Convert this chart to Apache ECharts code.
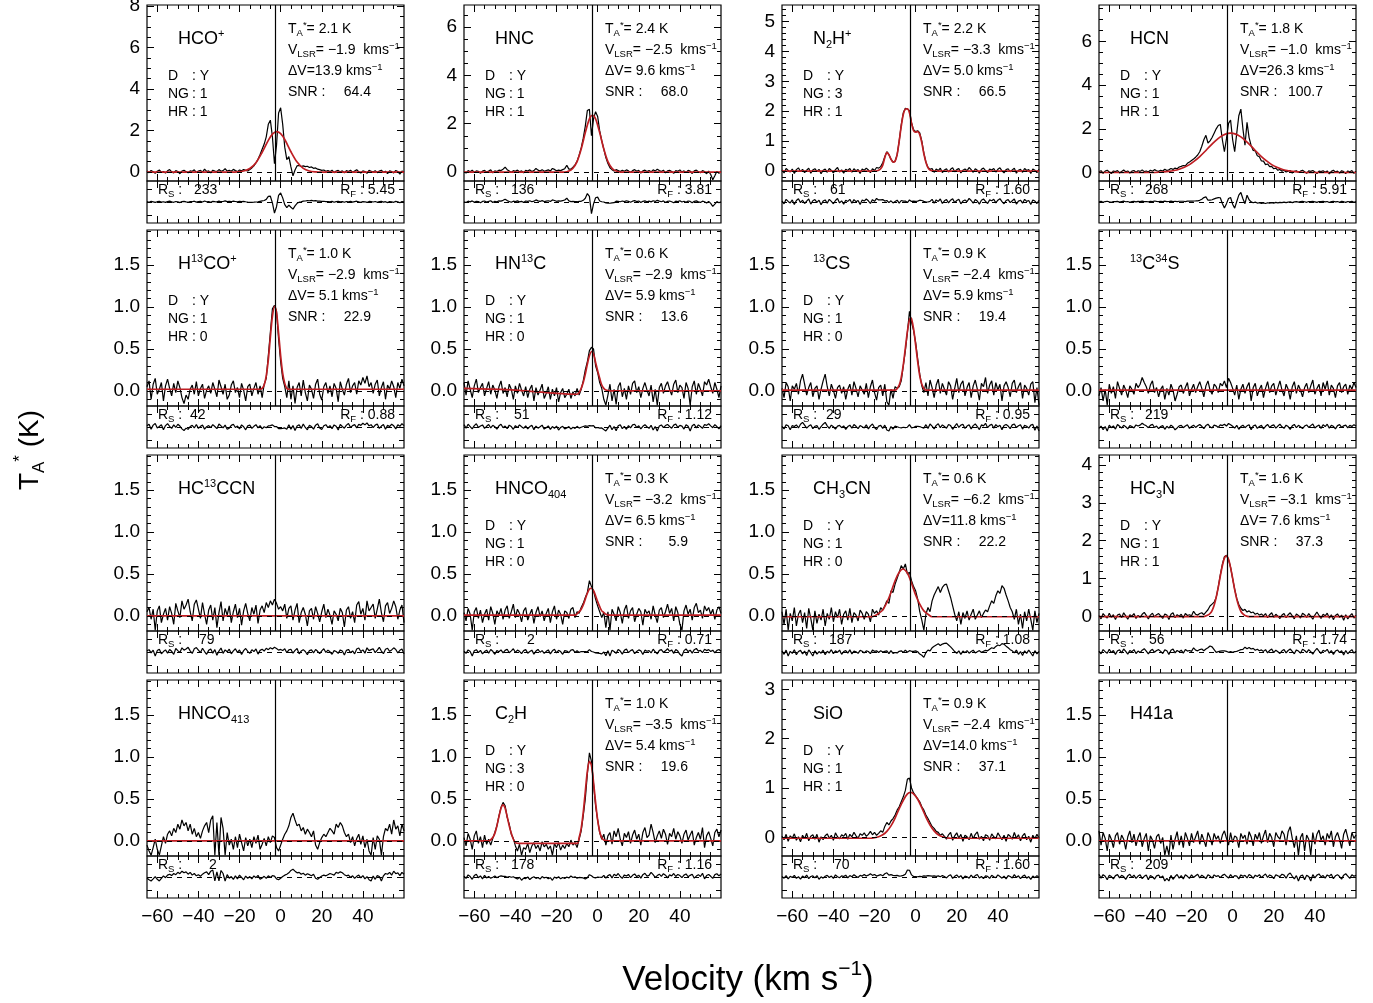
<!DOCTYPE html>
<html>
<head>
<meta charset="utf-8">
<title>Spectra</title>
<script src="https://cdn.jsdelivr.net/npm/echarts@6/dist/echarts.min.js"></script>
<style>
html, body { margin: 0; padding: 0; background: #fff; }
#main { width: 1373px; height: 1003px; }
</style>
</head>
<body>
<div id="main"></div>
<script>
// velocity channels, km/s
var velocity = [-65,-64,-63,-62,-61,-60,-59,-58,-57,-56,-55,-54,-53,-52,-51,-50,-49,-48,-47,-46,-45,-44,-43,-42,-41,-40,-39,-38,-37,-36,-35,-34,-33,-32,-31,-30,-29,-28,-27,-26,-25,-24,-23,-22,-21,-20,-19,-18,-17,-16,-15,-14,-13,-12,-11,-10,-9,-8,-7,-6,-5,-4,-3,-2,-1,0,1,2,3,4,5,6,7,8,9,10,11,12,13,14,15,16,17,18,19,20,21,22,23,24,25,26,27,28,29,30,31,32,33,34,35,36,37,38,39,40,41,42,43,44,45,46,47,48,49,50,51,52,53,54,55,56,57,58,59,60];
var velTicks = [-60, -40, -20, 0, 20, 40];
var velMinor = [-55,-50,-45,-35,-30,-25,-15,-10,-5,5,10,15,25,30,35,45,50,55];
var vSys = -2.6;

// y tick sets
var ticksEven8 = [0, 2, 4, 6, 8];
var ticksEven6 = [0, 2, 4, 6];
var minorEven8 = [0.5,1,1.5,2.5,3,3.5,4.5,5,5.5,6.5,7,7.5];
var minorEven6 = [0.5,1,1.5,2.5,3,3.5,4.5,5,5.5,6.5];
var ticksN2h = [0, 1, 2, 3, 4, 5];
var minorN2h = [-0.2,0.2,0.4,0.6,0.8,1.2,1.4,1.6,1.8,2.2,2.4,2.6,2.8,3.2,3.4,3.6,3.8,4.2,4.4,4.6,4.8,5.2,5.4];
var ticksHc3n = [0, 1, 2, 3, 4];
var minorHc3n = [-0.2,0.2,0.4,0.6,0.8,1.2,1.4,1.6,1.8,2.2,2.4,2.6,2.8,3.2,3.4,3.6,3.8,4.2];
var ticksSio = [0, 1, 2, 3];
var minorSio = [-0.2,0.2,0.4,0.6,0.8,1.2,1.4,1.6,1.8,2.2,2.4,2.6,2.8];
var ticksLow = [0, 0.5, 1, 1.5];
var minorLow = [-0.1,0.1,0.2,0.3,0.4,0.6,0.7,0.8,0.9,1.1,1.2,1.3,1.4,1.6,1.7,1.8,1.9];

// ---- HCO+ ----
var hcoData = [.05,-.03,.08,.02,-.06,.04,.10,-.02,.03,-.05,
.06,.12,.01,-.04,.07,.03,-.08,.05,.09,.02,
-.03,.06,.04,.11,-.02,.05,.08,0,.14,.03,
.06,-.04,.09,.05,.02,.12,.04,.07,.16,.05,
.09,.04,.13,.07,.02,.10,.06,.12,.08,.05,
.12,.2,.3,.45,.62,.85,1.1,1.35,1.7,2.3,
2.5,1.7,.4,1.3,2.85,3.1,2.3,1.2,.6,.75,
.25,-.18,.1,.3,.32,.27,.3,.26,.28,.22,
.25,.18,.2,.14,.12,.08,.1,.04,.07,.02,
.09,-.03,.05,.08,.01,.06,-.04,.07,.03,.09,
-.02,.05,.11,.02,-.05,.06,.03,-.06,.08,.04,
0,.07,-.03,.05,.09,-.02,.04,-.08,.06,.02,
-.04,.08,.03,-.1,.05,.01];
var hcoFit = [[-65,0],[-24,0],[-21,.01],[-18,.05],[-15,.17],[-12,.45],[-9,.95],[-6,1.53],[-4,1.83],[-1.9,1.95],[0,1.85],[2,1.57],[5,.98],[8,.48],[11,.18],[14,.05],[17,.01],[20,0],[60,0]];
var hcoResid = [.05,-.03,.08,.02,-.06,.04,.10,-.02,.03,-.05,
.06,.12,.01,-.04,.07,.03,-.08,.05,.09,.02,
-.03,.06,.04,.11,-.02,.05,.08,0,.14,.03,
.06,-.04,.09,.05,.02,.12,.04,.07,.16,.05,
.09,.04,.13,.07,.01,.09,.04,.09,.03,-.02,
-.05,-.04,-.03,0,.03,.09,.15,.21,.36,.77,
.8,-.13,-1.52,-.65,.92,1.25,.57,-.37,-.78,-.43,
-.73,-.98,-.53,-.18,-.03,.01,.12,.14,.2,.17,
.22,.16,.19,.13,.12,.08,.1,.04,.07,.02,
.09,-.03,.05,.08,.01,.06,-.04,.07,.03,.09,
-.02,.05,.11,.02,-.05,.06,.03,-.06,.08,.04,
0,.07,-.03,.05,.09,-.02,.04,-.08,.06,.02,
-.04,.08,.03,-.1,.05,.01];

// ---- HNC ----
var hncData = [.02,-.04,.06,.01,.08,-.02,.05,.03,-.05,.04,
.07,0,.04,.09,-.03,.05,.02,.08,.06,.12,
.2,.1,.04,-.02,.06,.03,.08,.01,.05,-.03,
.07,.04,.09,.02,.06,.15,.08,.04,.1,.03,
.06,.09,.04,.15,.11,.05,.08,.06,.1,.14,
.28,.12,.12,.2,.3,.45,.7,1.0,1.4,1.9,
2.55,2.6,1.5,2.2,2.5,2.3,1.7,1.3,.95,.6,
.35,.18,.1,.04,.1,.06,.02,.07,.03,.09,
.05,-.02,.06,.1,.03,.07,-.04,.05,.08,.02,
.06,.01,.09,.04,.12,.06,.02,.08,-.03,.05,
.07,.02,-.05,.06,.03,.09,0,.05,-.02,.07,
.04,-.06,.05,.08,.01,-.03,.06,.02,-.07,.04,
-.1,-.32,-.15,.03,-.05,.02];
var hncFit = [[-65,0],[-16,0],[-14,.04],[-12,.16],[-10,.43],[-8,.95],[-6,1.63],[-4,2.2],[-2.5,2.35],[-1,2.2],[1,1.63],[3,.95],[5,.43],[7,.16],[9,.04],[11,0],[60,0]];
var hncResid = [.02,-.04,.06,.01,.08,-.02,.05,.03,-.05,.04,
.07,0,.04,.09,-.03,.05,.02,.08,.06,.12,
.2,.1,.04,-.02,.06,.03,.08,.01,.05,-.03,
.07,.04,.09,.02,.06,.15,.08,.04,.1,.03,
.06,.09,.04,.15,.11,.05,.08,.06,.1,.14,
.27,.08,.03,.04,.03,.02,.04,.05,.12,.27,
.6,.4,-.83,-.13,.3,.35,.07,.02,0,-.06,
-.08,-.09,-.06,-.05,.06,.04,.02,.07,.03,.09,
.05,-.02,.06,.1,.03,.07,-.04,.05,.08,.02,
.06,.01,.09,.04,.12,.06,.02,.08,-.03,.05,
.07,.02,-.05,.06,.03,.09,0,.05,-.02,.07,
.04,-.06,.05,.08,.01,-.03,.06,.02,-.07,.04,
-.1,-.32,-.15,.03,-.05,.02];

// ---- N2H+ ----
var n2hData = [.04,-.06,.09,.02,-.03,.07,-.08,.05,.11,-.02,
.06,-.05,.03,.1,-.07,.04,.08,-.01,.06,-.09,
.03,.07,-.04,.09,.02,-.06,.05,.12,-.03,.04,
-.07,.06,.02,.09,-.04,.08,.01,.05,-.08,.07,
.03,.1,.04,-.05,.08,.02,.12,.1,.15,.28,
.48,.65,.55,.4,.3,.33,.55,1.0,1.55,1.95,
2.1,2.08,2.02,1.62,1.38,1.32,1.35,1.28,1.0,.6,
.3,.12,.06,.09,-.04,.07,.02,.1,-.05,.04,
.08,-.03,.06,.11,-.02,.05,.09,-.06,.03,.07,
.01,.12,.05,-.04,.08,.03,-.07,.06,.1,.02,
-.05,.07,.04,.09,-.03,.06,.11,.01,-.06,.05,
.08,-.02,.04,.1,-.07,.03,.06,-.04,.09,.02,
.05,-.08,.07,.03,-.05,.06];
var n2hFit = [[-65,0],[-20,0],[-18,.03],[-17,.08],[-16,.2],[-15,.45],[-14,.62],[-13,.55],[-12,.4],[-11,.3],[-10,.33],[-9,.55],[-8,1.0],[-7,1.5],[-6,1.9],[-5,2.07],[-4,2.08],[-3,1.95],[-2,1.6],[-1,1.35],[0,1.3],[1,1.32],[2,1.22],[3,.95],[4,.58],[5,.3],[6,.12],[7,.04],[9,0],[60,0]];
var n2hResid = [.04,-.06,.09,.02,-.03,.07,-.08,.05,.11,-.02,
.06,-.05,.03,.1,-.07,.04,.08,-.01,.06,-.09,
.03,.07,-.04,.09,.02,-.06,.05,.12,-.03,.04,
-.07,.06,.02,.09,-.04,.08,.01,.05,-.08,.07,
.03,.1,.04,-.05,.08,.02,.12,.07,.07,.08,
.03,.05,-.02,.04,-.03,.02,.06,-.04,.05,.03,
.03,-.02,.07,.02,.03,.02,.03,.06,.05,.02,
0,0,.02,.09,-.04,.07,.02,.1,-.05,.04,
.08,-.03,.06,.11,-.02,.05,.09,-.06,.03,.07,
.01,.12,.05,-.04,.08,.03,-.07,.06,.1,.02,
-.05,.07,.04,.09,-.03,.06,.11,.01,-.06,.05,
.08,-.02,.04,.1,-.07,.03,.06,-.04,.09,.02,
.05,-.08,.07,.03,-.05,.06];

// ---- HCN ----
var hcnData = [.03,.08,-.04,.06,.1,.02,-.05,.07,.04,.09,
-.02,.05,.11,.03,.07,-.03,.06,.09,.01,.08,
.05,.12,.04,.07,.02,.1,.06,.13,.08,.05,
.1,.07,.15,.09,.12,.18,.14,.2,.17,.25,
.28,.32,.3,.42,.48,.55,.62,.7,.8,.95,
1.2,1.5,1.7,1.35,1.45,1.6,1.8,2.0,2.15,2.2,
1.5,.95,1.55,2.25,2.4,1.5,.95,1.8,2.6,2.9,
2.0,1.25,2.3,1.6,1.23,1.01,.99,.77,.72,.53,
.52,.36,.39,.27,.28,.17,.2,.1,.14,.06,
.1,.02,.06,.09,-.03,.05,.08,.01,.06,.1,
.03,-.04,.07,.05,.09,.02,-.05,.06,.04,.08,
.01,.07,-.06,.05,.1,.02,.06,-.03,.08,.04,
-.05,.07,.02,.09,-.04,.06];
var hcnFit = [[-65,0],[-40,0],[-36,.01],[-31,.05],[-28.5,.09],[-26,.15],[-23.5,.24],[-21,.36],[-18.5,.53],[-16,.73],[-13.5,.96],[-11,1.21],[-8.5,1.44],[-6,1.63],[-3.5,1.755],[-1,1.8],[1.5,1.755],[4,1.63],[6.5,1.44],[9,1.21],[11.5,.96],[14,.73],[16.5,.53],[19,.36],[21.5,.24],[24,.15],[26.5,.09],[29,.05],[34,.01],[38,0],[60,0]];
var hcnResid = [.03,.08,-.04,.06,.1,.02,-.05,.07,.04,.09,
-.02,.05,.11,.03,.07,-.03,.06,.09,.01,.08,
.05,.12,.04,.07,.02,.1,.06,.13,.08,.05,
.08,.05,.12,.05,.07,.12,.06,.1,.05,.1,
.1,.1,.04,.11,.12,.13,.13,.14,.16,.22,
.38,.59,.69,.24,.24,.3,.41,.52,.59,.57,
-.19,-.79,-.22,.46,.6,-.29,-.82,.06,.91,1.27,
.44,-.23,.91,.3,.02,-.1,-.02,-.14,-.1,-.2,
-.12,-.2,-.1,-.15,-.08,-.14,-.06,-.12,-.04,-.09,
-.02,-.08,-.02,.03,-.08,.01,.05,-.01,.04,.09,
.03,-.04,.07,.05,.09,.02,-.05,.06,.04,.08,
.01,.07,-.06,.05,.1,.02,.06,-.03,.08,.04,
-.05,.07,.02,.09,-.04,.06];

// ---- H13CO+ ----
var h13coData = [.05,.12,-.1,.08,.15,-.04,.02,.1,-.12,.06,
.14,.03,-.06,.09,-.02,.12,.04,-.08,-.15,-.05,
-.1,.02,.07,-.04,.11,-.06,.03,.08,-.09,.01,
.06,-.03,.1,.02,-.07,.13,.05,-.04,.08,-.1,
-.05,.07,.12,-.02,.04,-.08,.09,.01,-.12,.05,
.08,-.06,.03,.1,-.04,.06,-.08,.08,.15,.42,
.7,.98,1.02,.95,.62,.35,.15,.05,-.08,.12,
-.1,.06,-.15,.04,.1,-.06,.13,-.02,-.12,.07,
.02,-.09,.08,.14,-.04,-.11,.05,.1,-.03,.06,
-.07,.09,.03,-.13,.11,.02,-.05,.08,.15,-.02,
.06,.1,-.04,.12,.07,.16,.09,.18,.05,.1,
-.03,.08,.13,-.06,.04,.11,-.1,.07,.02,.12,
.05,-.08,.1,.03,.14,.06];
var h13coFit = [[-65,.02],[-10,.02],[-9,.03],[-8,.07],[-7,.18],[-6,.37],[-5,.64],[-4,.89],[-2.9,1.01],[-2,.93],[-1,.69],[0,.42],[1,.21],[2,.09],[3,.03],[4,.02],[60,.02]];
var h13coResid = [.05,.12,-.1,.08,.15,-.04,.02,.1,-.12,.06,
.14,.03,-.06,.09,-.02,.12,.04,-.08,-.15,-.05,
-.1,.02,.07,-.04,.11,-.06,.03,.08,-.09,.01,
.06,-.03,.1,.02,-.07,.13,.05,-.04,.08,-.1,
-.05,.07,.12,-.02,.04,-.08,.09,.01,-.12,.05,
.08,-.06,.03,.1,-.04,.06,-.08,.01,-.03,.05,
.06,.09,.02,.02,-.07,-.07,-.06,-.04,-.1,.1,
-.1,.06,-.15,.04,.1,-.06,.13,-.02,-.12,.07,
.02,-.09,.08,.14,-.04,-.11,.05,.1,-.03,.06,
-.07,.09,.03,-.13,.11,.02,-.05,.08,.15,-.02,
.06,.1,-.04,.12,.07,.16,.09,.18,.05,.1,
-.03,.08,.13,-.06,.04,.11,-.1,.07,.02,.12,
.05,-.08,.1,.03,.14,.06];

// ---- HN13C ----
var hn13cData = [.1,-.05,.12,.02,-.08,.06,.14,-.02,.04,.09,
-.06,.03,.11,-.04,.07,.01,-.09,.05,.12,-.03,
.04,-.07,.08,.02,-.1,.06,-.03,.09,.01,-.06,
.05,-.08,.02,.07,-.12,.04,-.05,.01,.08,-.09,
-.03,.05,-.1,.02,-.06,.04,-.13,-.02,.03,-.08,
-.04,.02,-.09,-.01,-.06,.03,-.05,.02,.12,.25,
.35,.48,.52,.5,.3,.22,.1,.03,-.1,-.17,
-.05,.08,-.12,.02,-.16,.05,.1,-.07,.03,-.1,
.06,-.04,.09,.12,-.02,.05,-.08,.03,.1,.01,
-.06,.07,-.13,.02,-.17,.04,.09,-.03,.06,.11,
.02,-.05,.08,.13,-.02,.07,.04,-.09,.1,.03,
-.17,.05,.12,-.04,.09,.02,-.06,.11,.07,.14,
.05,-.03,.1,.02,-.08,.06];
var hn13cFit = [[-65,.03],[-40,.01],[-20,-.03],[-10,-.04],[-9,-.02],[-8,.03],[-7,.1],[-6,.2],[-5,.32],[-4,.42],[-2.9,.47],[-2,.44],[-1,.34],[0,.24],[1,.15],[2,.07],[3,.03],[4,.01],[6,0],[60,0]];
var hn13cResid = [.1,-.05,.12,.02,-.08,.06,.14,-.02,.04,.09,
-.06,.03,.11,-.04,.07,.01,-.09,.05,.12,-.03,
.04,-.07,.08,.02,-.1,.06,-.03,.09,.01,-.06,
.05,-.08,.02,.07,-.12,.04,-.05,.01,.08,-.09,
-.03,.05,-.1,.02,-.06,.04,-.13,-.02,.03,-.08,
-.04,.02,-.09,-.01,-.06,.03,-.05,-.01,.02,.05,
.03,.06,.05,.06,-.04,-.02,-.05,-.04,-.11,-.17,
-.05,.08,-.12,.02,-.16,.05,.1,-.07,.03,-.1,
.06,-.04,.09,.12,-.02,.05,-.08,.03,.1,.01,
-.06,.07,-.13,.02,-.17,.04,.09,-.03,.06,.11,
.02,-.05,.08,.13,-.02,.07,.04,-.09,.1,.03,
-.17,.05,.12,-.04,.09,.02,-.06,.11,.07,.14,
.05,-.03,.1,.02,-.08,.06];

// ---- 13CS ----
var cs13Data = [.03,-.08,.1,.05,-.12,.06,.02,.09,-.04,.12,
.2,.08,-.05,.04,.1,-.07,.03,.06,-.1,.02,
.12,.2,.05,-.06,.08,.01,-.09,.04,.07,-.03,
.05,-.1,.02,.08,-.05,.11,.03,-.07,.06,.01,
-.04,.09,-.08,.05,.13,-.02,-.11,.04,.07,-.06,
.08,-.13,-.17,.02,-.09,.05,.03,.05,.12,.3,
.48,.7,.95,.82,.72,.58,.38,.2,.06,-.02,
.1,-.06,.13,.04,-.08,.07,.14,-.03,.09,.02,
-.05,.11,.06,-.1,.03,.15,-.02,.08,.12,-.06,
.04,.1,-.08,.06,.13,.02,-.11,.09,.05,.16,
-.03,.07,.12,-.05,.1,.01,.08,-.12,.06,.11,
.04,-.07,.09,.13,-.02,.05,.1,-.09,.07,.03,
-.05,.08,.11,-.14,.04,-.17];
var cs13Fit = [[-65,.01],[-10,.01],[-8,.07],[-7,.16],[-6,.31],[-5,.51],[-4,.71],[-3,.85],[-2.4,.87],[-2,.86],[-1,.74],[0,.55],[1,.35],[2,.18],[3,.08],[4,.03],[5,.01],[60,.01]];
var cs13Resid = [.03,-.08,.1,.05,-.12,.06,.02,.09,-.04,.12,
.2,.08,-.05,.04,.1,-.07,.03,.06,-.1,.02,
.12,.2,.05,-.06,.08,.01,-.09,.04,.07,-.03,
.05,-.1,.02,.08,-.05,.11,.03,-.07,.06,.01,
-.04,.09,-.08,.05,.13,-.02,-.11,.04,.07,-.06,
.08,-.13,-.17,.02,-.09,.04,.01,-.02,-.04,-.01,
-.03,-.01,.1,-.04,-.02,.03,.03,.02,-.02,-.05,
.1,-.06,.13,.04,-.08,.07,.14,-.03,.09,.02,
-.05,.11,.06,-.1,.03,.15,-.02,.08,.12,-.06,
.04,.1,-.08,.06,.13,.02,-.11,.09,.05,.16,
-.03,.07,.12,-.05,.1,.01,.08,-.12,.06,.11,
.04,-.07,.09,.13,-.02,.05,.1,-.09,.07,.03,
-.05,.08,.11,-.14,.04,-.17];

// ---- 13C34S (no detection, flat fit: residual equals data) ----
var c34sData = [-.06,.04,-.12,.02,-.17,.08,-.03,.05,-.09,.11,
.03,-.05,.07,.01,-.08,.06,.02,-.04,.09,.04,
.08,.16,.1,.05,-.03,.07,.12,-.02,.04,-.07,
.02,.06,-.1,.03,-.05,.08,.01,-.12,-.04,.05,
.07,-.03,.04,.1,-.06,.02,.08,-.02,.05,.11,
.03,-.07,.06,.12,.01,-.04,.08,.05,-.02,.09,
.06,.12,.04,.15,.1,.03,-.05,.07,-.1,.02,
.08,-.03,.05,.1,-.12,.04,.09,-.06,.02,.07,
-.08,.03,.11,-.02,.06,.09,-.05,.04,.12,.01,
-.06,.08,.02,-.1,.05,.11,-.03,.07,.01,-.07,
.04,.09,-.02,.06,.13,-.04,.03,.08,-.06,.1,
.02,.12,-.05,.07,.03,-.08,.06,.1,-.02,.05,
.08,-.04,.07,.02,.1,.04];
var c34sFit = [[-65,.01],[60,.01]];

// ---- HC13CCN ----
var hc13ccnData = [.05,.1,-.04,.08,-.17,.06,.12,-.08,.02,.09,
-.05,.11,.03,-.1,.15,.06,-.02,.18,.08,.13,
.2,.05,-.06,.14,.19,.08,-.03,.16,.02,-.1,
.07,.13,-.05,.1,-.14,.04,.17,-.06,.09,.01,
.12,-.08,.05,.14,-.02,.09,-.11,.06,.15,.03,
-.06,.1,.02,.13,-.09,.07,.12,.04,.16,.1,
.18,.13,.2,.15,.08,.11,.06,.14,-.03,.09,
.12,-.05,.07,.15,-.08,.04,.1,.02,-.12,.06,
.09,-.04,.11,.03,-.07,.05,.14,-.02,.08,.01,
-.1,.06,.02,-.06,.09,.04,-.13,.07,.11,-.03,
.05,-.08,.13,.17,.02,.09,-.05,.18,.06,.1,
.14,-.03,.08,.2,.04,-.07,.12,.16,.03,.09,
.18,.11,-.04,.07,.13,-.08];
var hc13ccnFit = [[-65,0],[60,0]];

// ---- HNCO 4(0,4) ----
var hnco404Data = [.04,-.06,.09,.02,-.17,.05,.1,-.03,.07,-.08,
.02,.08,-.05,.11,.03,-.1,.06,.01,.09,-.04,
.07,.12,-.03,.05,.14,-.02,.08,.03,-.07,.06,
.1,-.05,.02,.08,-.09,.04,.11,-.01,.06,-.06,
.03,.09,-.08,.05,.12,-.04,.07,.02,-.1,.06,
.04,-.03,.08,.1,-.02,.05,.03,.1,.15,.22,
.28,.42,.35,.3,.2,.12,.05,-.02,.04,-.14,
.05,-.17,.08,.02,-.06,.11,.04,-.09,.07,.13,
-.03,.06,.1,-.07,.02,.09,.05,-.11,.08,.03,
.06,-.04,.12,.01,-.08,.07,.1,-.02,.05,.14,
.03,.09,-.06,.11,.04,-.1,-.17,.06,.13,.02,
.08,-.05,.1,.15,.04,.07,-.03,.12,.06,.1,
.02,.08,-.04,.07,.11,.03];
var hnco404Fit = [[-65,.01],[-11,.01],[-9,.05],[-8,.08],[-7,.13],[-6,.2],[-5,.27],[-4,.32],[-3.2,.33],[-2,.3],[-1,.24],[0,.17],[1,.11],[2,.06],[3,.04],[4,.02],[6,.01],[60,.01]];
var hnco404Resid = [.04,-.06,.09,.02,-.17,.05,.1,-.03,.07,-.08,
.02,.08,-.05,.11,.03,-.1,.06,.01,.09,-.04,
.07,.12,-.03,.05,.14,-.02,.08,.03,-.07,.06,
.1,-.05,.02,.08,-.09,.04,.11,-.01,.06,-.06,
.03,.09,-.08,.05,.12,-.04,.07,.02,-.1,.06,
.04,-.03,.08,.1,-.02,.05,-.02,.02,.02,.02,
.01,.1,.02,0,-.04,-.05,-.06,-.08,0,-.16,
.05,-.17,.08,.02,-.06,.11,.04,-.09,.07,.13,
-.03,.06,.1,-.07,.02,.09,.05,-.11,.08,.03,
.06,-.04,.12,.01,-.08,.07,.1,-.02,.05,.14,
.03,.09,-.06,.11,.04,-.1,-.17,.06,.13,.02,
.08,-.05,.1,.15,.04,.07,-.03,.12,.06,.1,
.02,.08,-.04,.07,.11,.03];

// ---- CH3CN ----
var ch3cnData = [.05,-.1,.08,-.17,.03,-.06,.1,-.12,.02,.07,
-.08,.04,-.15,.09,-.03,-.17,.06,-.09,.02,-.05,
.08,-.12,.03,-.04,.1,-.07,.05,-.02,.08,-.1,
.02,.06,-.05,.09,-.08,.04,.01,-.06,.07,.03,
-.04,.05,.02,-.07,.08,.03,.06,.01,.1,.07,
.12,.18,.15,.3,.28,.38,.45,.52,.6,.56,
.62,.5,.52,.42,.35,.3,.2,.05,-.05,-.17,
.02,.1,.05,.18,.25,.3,.35,.28,.34,.37,
.38,.3,.22,.12,.02,-.06,.05,-.1,.04,-.03,
.06,-.05,.02,.08,-.04,.01,.06,-.02,.03,.07,
.05,.12,.18,.15,.24,.3,.27,.36,.33,.25,
.18,.1,.05,-.04,.08,-.1,.02,-.15,.05,-.06,
.08,-.04,-.17,.06,-.08,.03];
var ch3cnFit = [[-65,-.01],[-22,-.01],[-20,0],[-18,.03],[-16,.07],[-14,.16],[-12,.28],[-10,.42],[-8,.52],[-6.2,.56],[-4,.51],[-2,.39],[0,.25],[2,.14],[4,.06],[6,.02],[8,-.01],[60,-.01]];
var ch3cnResid = [.05,-.1,.08,-.17,.03,-.06,.1,-.12,.02,.07,
-.08,.04,-.15,.09,-.03,-.17,.06,-.09,.02,-.05,
.08,-.12,.03,-.04,.1,-.07,.05,-.02,.08,-.1,
.02,.06,-.05,.09,-.08,.04,.01,-.06,.07,.03,
-.04,.05,.02,-.07,.08,.03,.05,-.02,.05,0,
.03,.05,-.07,.06,-.06,-.02,-.04,.03,.05,-.02,
.08,-.01,.06,.03,.03,.05,.01,-.09,-.14,-.23,
-.02,.08,.05,.18,.25,.3,.35,.28,.34,.37,
.38,.3,.22,.12,.02,-.06,.05,-.1,.04,-.03,
.06,-.05,.02,.08,-.04,.01,.06,-.02,.03,.07,
.05,.12,.18,.15,.24,.3,.27,.36,.33,.25,
.18,.1,.05,-.04,.08,-.1,.02,-.15,.05,-.06,
.08,-.04,-.17,.06,-.08,.03];

// ---- HC3N ----
var hc3nData = [.03,-.06,.08,.01,-.04,.09,-.02,.05,-.08,.04,
.07,-.03,.1,.02,-.07,.05,.01,.08,-.05,.03,
-.02,.06,.11,.03,-.06,.04,.09,-.01,.05,.08,
.02,-.05,.07,.04,-.08,.06,.1,-.03,.05,.01,
.06,-.04,.08,.03,.05,.02,.14,.06,.04,.08,
.1,.05,.12,.18,.28,.33,.38,.5,.78,1.1,
1.38,1.58,1.62,1.5,1.3,1.0,.72,.48,.32,.22,
.16,.19,.12,.15,.1,.12,.06,.09,.04,.07,
.02,.08,-.03,.05,.1,-.02,.06,.01,-.05,.04,
.08,-.03,.05,.1,.02,-.06,.07,.03,-.04,.09,
.05,-.02,.08,.01,-.07,.04,.12,.03,-.05,.06,
.02,.09,-.04,.05,-.08,.03,.07,-.02,.04,-.1,
.05,-.06,.02,.08,-.04,.03];
var hc3nFit = [[-65,0],[-14,0],[-12,.04],[-11,.08],[-10,.16],[-9,.3],[-8,.51],[-7,.77],[-6,1.07],[-5,1.34],[-4,1.54],[-3.1,1.6],[-2,1.51],[-1,1.29],[0,1.01],[1,.71],[2,.46],[3,.27],[4,.14],[5,.07],[6,.03],[8,0],[60,0]];
var hc3nResid = [.03,-.06,.08,.01,-.04,.09,-.02,.05,-.08,.04,
.07,-.03,.1,.02,-.07,.05,.01,.08,-.05,.03,
-.02,.06,.11,.03,-.06,.04,.09,-.01,.05,.08,
.02,-.05,.07,.04,-.08,.06,.1,-.03,.05,.01,
.06,-.04,.08,.03,.05,.02,.14,.06,.04,.08,
.1,.04,.1,.14,.2,.17,.08,-.01,.01,.03,
.04,.04,.02,-.01,.01,-.01,.01,.02,.05,.08,
.09,.16,.11,.15,.1,.12,.06,.09,.04,.07,
.02,.08,-.03,.05,.1,-.02,.06,.01,-.05,.04,
.08,-.03,.05,.1,.02,-.06,.07,.03,-.04,.09,
.05,-.02,.08,.01,-.07,.04,.12,.03,-.05,.06,
.02,.09,-.04,.05,-.08,.03,.07,-.02,.04,-.1,
.05,-.06,.02,.08,-.04,.03];

// ---- HNCO 4(1,3) (no fit) ----
var hnco413Data = [-.05,-.12,-.17,-.08,.02,-.1,-.17,-.06,.05,-.03,
.08,.12,.06,.15,.1,.2,.14,.25,.18,.22,
.12,.2,.08,.15,.05,.1,.03,.12,.18,.22,
.1,.25,.3,-.17,.22,-.17,.28,.15,-.17,.1,
-.05,.02,-.1,.05,-.08,.08,-.02,-.12,.04,-.06,
.02,-.08,.05,-.03,.07,-.1,-.04,.03,-.06,.05,
-.02,.06,.04,-.08,-.12,-.05,.02,.08,.12,.18,
.28,.33,.25,.18,.2,.12,.16,.08,.14,.1,
.05,.12,-.05,-.1,-.02,.04,.08,.05,.1,.15,
.12,.08,.2,.16,.22,.18,.1,.05,.08,-.02,
.05,-.06,.03,.08,-.04,.06,-.08,.02,-.12,-.17,
.04,-.1,.06,.02,-.17,.05,.15,.12,.2,.08,
.25,.14,.18,.06,.2,.12];
var hnco413Fit = [[-65,0],[60,0]];

// ---- C2H ----
var c2hData = [.04,-.06,.09,.02,-.1,.06,.12,-.03,.05,-.08,
.07,-.04,.02,-.05,.03,.1,.18,.3,.4,.46,
.42,.28,.2,.08,.03,-.06,-.12,-.04,-.17,-.08,
-.1,-.03,-.14,-.06,-.02,-.09,-.05,-.12,-.01,-.07,
-.04,-.1,-.06,-.17,-.03,-.08,-.02,-.11,-.05,-.09,
-.03,-.07,.01,-.05,-.02,-.08,.02,.12,.3,.5,
.8,1.05,.95,.68,.42,.25,.1,.02,.08,-.05,
.06,.1,-.04,.12,.05,.15,.02,-.06,.09,.04,
.11,-.03,.07,.13,.02,.08,-.05,.1,.16,.04,
.07,.2,.1,-.02,.06,.12,.03,.14,.08,-.04,
.09,.05,.15,.02,.11,.06,-.03,.08,.13,.01,
.07,.12,-.05,.04,.1,.02,.16,-.08,.06,.11,
.03,-.06,.1,.14,.05,.13];
var c2hFit = [[-65,0],[-53,0],[-51,.04],[-50,.09],[-49,.18],[-48,.29],[-47,.39],[-46,.43],[-45,.39],[-44,.29],[-43,.18],[-42,.09],[-41,.02],[-40,-.02],[-38,-.03],[-10,-.03],[-9,.04],[-8,.15],[-7,.34],[-6,.59],[-5,.83],[-4,.95],[-3,.9],[-2,.7],[-1,.46],[0,.25],[1,.11],[2,.04],[3,.01],[5,0],[60,0]];
var c2hResid = [.04,-.06,.09,.02,-.1,.06,.12,-.03,.05,-.08,
.07,-.04,.02,-.05,-.01,.04,-.03,.02,.05,.03,
.03,-.01,.02,-.01,.01,-.04,-.09,-.01,-.14,-.05,
-.07,0,-.11,-.03,.01,-.06,-.02,-.09,.02,-.04,
-.01,-.07,-.03,-.14,0,-.05,.01,-.08,-.02,-.06,
0,-.04,.04,-.02,.01,-.05,-.02,-.03,-.04,-.09,
-.03,.1,.05,-.02,-.04,0,-.01,-.02,.07,-.05,
.06,.1,-.04,.12,.05,.15,.02,-.06,.09,.04,
.11,-.03,.07,.13,.02,.08,-.05,.1,.16,.04,
.07,.2,.1,-.02,.06,.12,.03,.14,.08,-.04,
.09,.05,.15,.02,.11,.06,-.03,.08,.13,.01,
.07,.12,-.05,.04,.1,.02,.16,-.08,.06,.11,
.03,-.06,.1,.14,.05,.13];

// ---- SiO ----
var sioData = [.02,-.05,.06,-.08,.03,-.02,.07,-.06,.01,-.09,
.04,-.03,.08,-.07,.02,.05,-.04,.06,-.1,.01,
-.05,.03,.07,-.02,.04,-.06,.09,.01,-.03,.05,
.02,.08,-.04,.06,.01,.1,.03,-.02,.07,.04,
.09,.02,.06,.12,.05,.1,.04,.08,.13,.1,
.22,.3,.25,.33,.38,.45,.55,.62,.72,.82,
.95,1.18,1.2,1.0,.9,.84,.78,.72,.62,.55,
.45,.38,.3,.22,.18,.12,.1,.04,.07,.02,
-.04,.05,.1,-.06,.03,.09,-.02,.06,-.08,.04,
.01,-.05,.08,-.03,.06,.11,-.04,.02,-.07,.05,
.03,-.06,.07,.01,-.03,.09,.02,-.05,.04,-.08,
.06,.02,-.04,.1,-.02,.05,-.07,.03,.08,-.05,
.02,-.1,.04,-.03,.06,-.02];
var sioFit = [[-65,-.02],[-22,-.02],[-20,-.01],[-18,.01],[-16,.05],[-14,.12],[-12,.23],[-10,.39],[-8,.58],[-6,.75],[-4,.88],[-2.4,.91],[-1,.88],[1,.77],[3,.6],[5,.41],[7,.25],[9,.13],[11,.05],[13,.01],[15,-.01],[17,-.02],[60,-.02]];
var sioResid = [.02,-.05,.06,-.08,.03,-.02,.07,-.06,.01,-.09,
.04,-.03,.08,-.07,.02,.05,-.04,.06,-.1,.01,
-.05,.03,.07,-.02,.04,-.06,.09,.01,-.03,.05,
.02,.08,-.04,.06,.01,.1,.03,-.02,.07,.04,
.11,.04,.08,.14,.07,.11,.04,.07,.1,.05,
.14,.18,.08,.1,.07,.06,.07,.04,.05,.07,
.12,.3,.29,.09,.02,.02,.01,.03,.02,.05,
.04,.06,.05,.04,.05,.03,.05,.01,.06,.02,
-.04,.05,.1,-.06,.03,.09,-.02,.06,-.08,.04,
.01,-.05,.08,-.03,.06,.11,-.04,.02,-.07,.05,
.03,-.06,.07,.01,-.03,.09,.02,-.05,.04,-.08,
.06,.02,-.04,.1,-.02,.05,-.07,.03,.08,-.05,
.02,-.1,.04,-.03,.06,-.02];

// ---- H41a (no detection) ----
var h41Data = [.12,-.05,.1,.03,-.12,.08,.02,-.08,.06,.1,
-.04,.07,.02,-.1,.05,.12,-.02,.08,-.06,.04,
.1,-.07,.03,.09,-.12,.06,.01,-.09,.05,.08,
-.03,.04,-.17,-.06,-.17,.07,-.1,.02,.11,-.05,
.06,-.08,.1,.03,-.06,.09,-.02,.05,.12,-.04,
.08,.01,-.07,.1,.04,-.05,.09,.02,.06,-.03,
.07,.12,.03,-.05,.1,-.02,.06,.04,-.08,.09,
.03,.07,-.04,.11,.05,-.06,.08,.02,.1,-.03,
.06,.13,-.02,.09,.04,-.07,.1,.05,.02,.12,
.08,-.05,.11,.17,.03,-.08,.06,-.17,.04,.09,
-.12,.07,.02,-.17,.1,-.04,.08,.13,.01,.06,
-.05,.09,.03,.12,-.07,.05,.1,.02,-.09,.08,
.14,.04,-.06,.1,.03,.07];
var h41Fit = [[-65,0],[60,0]];

var panels = [
  {mol: '{m|HCO}{mp|+}', data: hcoData, fit: hcoFit, resid: hcoResid, ymin: -0.43, ymax: 8.05, ticks: ticksEven8, minor: minorEven8, dec: 0, rr: 2.9,
   ta: '2.1', vlsr: '\u22121.9', dv: '13.9', snr: '64.4', d: 'Y', ng: '1', hr: '1', rs: '233', rsx: 47, rf: '5.45'},
  {mol: '{m|HNC}', data: hncData, fit: hncFit, resid: hncResid, ymin: -0.37, ymax: 6.91, ticks: ticksEven6, minor: minorEven6, dec: 0, rr: 1.5,
   ta: '2.4', vlsr: '\u22122.5', dv: '9.6', snr: '68.0', d: 'Y', ng: '1', hr: '1', rs: '136', rsx: 47, rf: '3.81'},
  {mol: '{m|N}{mb|2}{m|H}{mp|+}', data: n2hData, fit: n2hFit, resid: n2hResid, ymin: -0.33, ymax: 5.55, ticks: ticksN2h, minor: minorN2h, dec: 0, rr: 0.7,
   ta: '2.2', vlsr: '\u22123.3', dv: '5.0', snr: '66.5', d: 'Y', ng: '3', hr: '1', rs: '61', rsx: 48, rf: '1.60'},
  {mol: '{m|HCN}', data: hcnData, fit: hcnFit, resid: hcnResid, ymin: -0.39, ymax: 7.67, ticks: ticksEven6, minor: minorEven8, dec: 0, rr: 2.8,
   ta: '1.8', vlsr: '\u22121.0', dv: '26.3', snr: '100.7', d: 'Y', ng: '1', hr: '1', rs: '268', rsx: 46, rf: '5.91'},

  {mol: '{m|H}{mp|13}{m|CO}{mp|+}', data: h13coData, fit: h13coFit, resid: h13coResid, ymin: -0.18, ymax: 1.92, ticks: ticksLow, minor: minorLow, dec: 1, rr: 0.9,
   ta: '1.0', vlsr: '\u22122.9', dv: '5.1', snr: '22.9', d: 'Y', ng: '1', hr: '0', rs: '42', rsx: 43, rf: '0.88'},
  {mol: '{m|HN}{mp|13}{m|C}', data: hn13cData, fit: hn13cFit, resid: hn13cResid, ymin: -0.18, ymax: 1.92, ticks: ticksLow, minor: minorLow, dec: 1, rr: 0.9,
   ta: '0.6', vlsr: '\u22122.9', dv: '5.9', snr: '13.6', d: 'Y', ng: '1', hr: '0', rs: '51', rsx: 50, rf: '1.12'},
  {mol: '{mp|13}{m|CS}', data: cs13Data, fit: cs13Fit, resid: cs13Resid, ymin: -0.18, ymax: 1.92, ticks: ticksLow, minor: minorLow, dec: 1, rr: 0.9,
   ta: '0.9', vlsr: '\u22122.4', dv: '5.9', snr: '19.4', d: 'Y', ng: '1', hr: '0', rs: '29', rsx: 44, rf: '0.95'},
  {mol: '{mp|13}{m|C}{mp|34}{m|S}', data: c34sData, fit: c34sFit, resid: c34sData, ymin: -0.18, ymax: 1.92, ticks: ticksLow, minor: minorLow, dec: 1, rr: 0.9,
   ta: null, rs: '219', rsx: 46, rf: null},

  {mol: '{m|HC}{mp|13}{m|CCN}', data: hc13ccnData, fit: hc13ccnFit, resid: hc13ccnData, ymin: -0.18, ymax: 1.92, ticks: ticksLow, minor: minorLow, dec: 1, rr: 0.9,
   ta: null, rs: '79', rsx: 52, rf: null},
  {mol: '{m|HNCO}{mb|404}', data: hnco404Data, fit: hnco404Fit, resid: hnco404Resid, ymin: -0.18, ymax: 1.92, ticks: ticksLow, minor: minorLow, dec: 1, rr: 0.9,
   ta: '0.3', vlsr: '\u22123.2', dv: '6.5', snr: '5.9', d: 'Y', ng: '1', hr: '0', rs: '2', rsx: 63, rf: '0.71'},
  {mol: '{m|CH}{mb|3}{m|CN}', data: ch3cnData, fit: ch3cnFit, resid: ch3cnResid, ymin: -0.18, ymax: 1.92, ticks: ticksLow, minor: minorLow, dec: 1, rr: 0.9,
   ta: '0.6', vlsr: '\u22126.2', dv: '11.8', snr: '22.2', d: 'Y', ng: '1', hr: '0', rs: '187', rsx: 47, rf: '1.08'},
  {mol: '{m|HC}{mb|3}{m|N}', data: hc3nData, fit: hc3nFit, resid: hc3nResid, ymin: -0.38, ymax: 4.26, ticks: ticksHc3n, minor: minorHc3n, dec: 0, rr: 0.7,
   ta: '1.6', vlsr: '\u22123.1', dv: '7.6', snr: '37.3', d: 'Y', ng: '1', hr: '1', rs: '56', rsx: 50, rf: '1.74'},

  {mol: '{m|HNCO}{mb|413}', data: hnco413Data, fit: hnco413Fit, resid: hnco413Data, ymin: -0.18, ymax: 1.92, ticks: ticksLow, minor: minorLow, dec: 1, rr: 0.9,
   ta: null, rs: '2', rsx: 62, rf: null},
  {mol: '{m|C}{mb|2}{m|H}', data: c2hData, fit: c2hFit, resid: c2hResid, ymin: -0.18, ymax: 1.92, ticks: ticksLow, minor: minorLow, dec: 1, rr: 0.9,
   ta: '1.0', vlsr: '\u22123.5', dv: '5.4', snr: '19.6', d: 'Y', ng: '3', hr: '0', rs: '178', rsx: 47, rf: '1.16'},
  {mol: '{m|SiO}', data: sioData, fit: sioFit, resid: sioResid, ymin: -0.38, ymax: 3.19, ticks: ticksSio, minor: minorSio, dec: 0, rr: 0.9,
   ta: '0.9', vlsr: '\u22122.4', dv: '14.0', snr: '37.1', d: 'Y', ng: '1', hr: '1', rs: '70', rsx: 52, rf: '1.60'},
  {mol: '{m|H41a}', data: h41Data, fit: h41Fit, resid: h41Data, ymin: -0.18, ymax: 1.92, ticks: ticksLow, minor: minorLow, dec: 1, rr: 0.9,
   ta: null, rs: '209', rsx: 46, rf: null}
];

var FONT = '"Liberation Sans", Arial, Helvetica, sans-serif';
var RED = '#be1e23';
var colLeft = [147, 464, 782, 1099];
var rowTop = [5, 230, 455, 680];
var panelW = 257, mainH = 176, resH = 42;

var rich = {
  m:  {fontSize: 18, lineHeight: 22, fontFamily: FONT, fill: '#000'},
  mp: {fontSize: 11, lineHeight: 10, verticalAlign: 'top', fontFamily: FONT, fill: '#000'},
  mb: {fontSize: 11, lineHeight: 10, verticalAlign: 'bottom', fontFamily: FONT, fill: '#000'},
  s:  {fontSize: 14, lineHeight: 18, fontFamily: FONT, fill: '#000'},
  sp: {fontSize: 9.5, lineHeight: 8, verticalAlign: 'top', fontFamily: FONT, fill: '#000'},
  sb: {fontSize: 9.5, lineHeight: 8, verticalAlign: 'bottom', fontFamily: FONT, fill: '#000'},
  t:  {fontSize: 28, lineHeight: 36, fontFamily: FONT, fill: '#000'},
  tp: {fontSize: 17, lineHeight: 15, verticalAlign: 'top', fontFamily: FONT, fill: '#000'},
  tb: {fontSize: 17, lineHeight: 15, verticalAlign: 'bottom', fontFamily: FONT, fill: '#000'},
  x:  {fontSize: 35, lineHeight: 42, fontFamily: FONT, fill: '#000'},
  xp: {fontSize: 21, lineHeight: 18, verticalAlign: 'top', fontFamily: FONT, fill: '#000'}
};

var grid = [], xAxis = [], yAxis = [], series = [], graphic = [];

function fmtVel(v) {
  return v < 0 ? '\u2212' + Math.abs(v) : String(v);
}

function addX(gi, pos, vals, len, withLabels) {
  xAxis.push({
    type: 'value', gridIndex: gi, position: pos, min: -65, max: 60,
    axisLine: {show: false, onZero: false},
    splitLine: {show: false},
    axisTick: {show: true, inside: true, length: len, customValues: vals, lineStyle: {color: '#000', width: 1}},
    axisLabel: withLabels
      ? {show: true, customValues: vals, margin: 9, fontSize: 19, fontFamily: FONT, color: '#000', formatter: fmtVel}
      : {show: false}
  });
  return xAxis.length - 1;
}

function addY(gi, pos, lo, hi, vals, len, fmt) {
  yAxis.push({
    type: 'value', gridIndex: gi, position: pos, min: lo, max: hi,
    axisLine: {show: false, onZero: false},
    splitLine: {show: false},
    axisTick: {show: true, inside: true, length: len, customValues: vals, lineStyle: {color: '#000', width: 1}},
    axisLabel: fmt
      ? {show: true, customValues: vals, margin: 7, fontSize: 19, fontFamily: FONT, color: '#000', formatter: fmt}
      : {show: false}
  });
  return yAxis.length - 1;
}

function txt(x, y, s, align) {
  graphic.push({
    type: 'text', x: x, y: y, silent: true, z: 100,
    style: {text: s, rich: rich, align: align || 'left', verticalAlign: 'middle', fontFamily: FONT, fontSize: 14, fill: '#000'}
  });
}

panels.forEach(function (p, k) {
  var r = Math.floor(k / 4), c = k % 4;
  var L = colLeft[c], T = rowTop[r];
  var lastRow = r === 3;

  // main spectrum box
  var gm = grid.length;
  grid.push({left: L, top: T, width: panelW, height: mainH, show: true, borderColor: '#000', borderWidth: 1.2,
             backgroundColor: 'transparent', containLabel: false, outerBoundsMode: 'none'});
  // residual box
  var gr = grid.length;
  grid.push({left: L, top: T + mainH, width: panelW, height: resH, show: true, borderColor: '#000', borderWidth: 1.2,
             backgroundColor: 'transparent', containLabel: false, outerBoundsMode: 'none'});

  var fmtY = p.dec ? function (v) { return v.toFixed(1); } : function (v) { return String(v); };

  var xm = addX(gm, 'bottom', velTicks, 7, false);
  addX(gm, 'bottom', velMinor, 4, false);
  addX(gm, 'top', velTicks, 7, false);
  addX(gm, 'top', velMinor, 4, false);
  var ym = addY(gm, 'left', p.ymin, p.ymax, p.ticks, 7, fmtY);
  addY(gm, 'left', p.ymin, p.ymax, p.minor, 4, null);
  addY(gm, 'right', p.ymin, p.ymax, p.ticks, 7, null);
  addY(gm, 'right', p.ymin, p.ymax, p.minor, 4, null);

  var xr = addX(gr, 'bottom', velTicks, 7, lastRow);
  addX(gr, 'bottom', velMinor, 4, false);
  addX(gr, 'top', velTicks, 7, false);
  addX(gr, 'top', velMinor, 4, false);
  var rTicks = [-0.62 * p.rr, 0, 0.62 * p.rr];
  var yr = addY(gr, 'left', -p.rr, p.rr, rTicks, 5, null);
  addY(gr, 'right', -p.rr, p.rr, rTicks, 5, null);

  series.push({
    type: 'line', xAxisIndex: xm, yAxisIndex: ym, symbol: 'none', silent: true, animation: false, z: 3,
    data: velocity.map(function (v, i) { return [v, p.data[i]]; }),
    lineStyle: {color: '#000', width: 1.2},
    markLine: {
      silent: true, symbol: ['none', 'none'], animation: false, label: {show: false},
      data: [
        {xAxis: vSys, lineStyle: {color: '#000', width: 1.2, type: 'solid'}},
        {yAxis: 0, lineStyle: {color: '#000', width: 1, type: [5, 5]}}
      ]
    }
  });
  series.push({
    type: 'line', xAxisIndex: xm, yAxisIndex: ym, symbol: 'none', silent: true, animation: false, z: 4,
    smooth: 0.3, data: p.fit,
    lineStyle: {color: RED, width: 1.7}
  });
  series.push({
    type: 'line', xAxisIndex: xr, yAxisIndex: yr, symbol: 'none', silent: true, animation: false, z: 3,
    data: velocity.map(function (v, i) { return [v, p.resid[i]]; }),
    lineStyle: {color: '#000', width: 1.2},
    markLine: {
      silent: true, symbol: ['none', 'none'], animation: false, label: {show: false},
      data: [{yAxis: 0, lineStyle: {color: '#000', width: 1, type: [5, 5]}}]
    }
  });

  // labels inside the box
  txt(L + 31, T + 34, p.mol);
  if (p.ta) {
    txt(L + 21, T + 71, '{s|D}');   txt(L + 45, T + 71, '{s|: ' + p.d + '}');
    txt(L + 21, T + 89, '{s|NG}');  txt(L + 45, T + 89, '{s|: ' + p.ng + '}');
    txt(L + 21, T + 107, '{s|HR}'); txt(L + 45, T + 107, '{s|: ' + p.hr + '}');
    txt(L + 141, T + 24, '{s|T}{sb|A}{sp|*}{s|= ' + p.ta + ' K}');
    txt(L + 141, T + 45, '{s|V}{sb|LSR}{s|= ' + p.vlsr + '  kms}{sp|\u22121}');
    var dvs = parseFloat(p.dv) >= 10 ? p.dv : ' ' + p.dv;
    txt(L + 141, T + 66, '{s|\u0394V=' + dvs + ' kms}{sp|\u22121}');
    txt(L + 141, T + 87, '{s|SNR :}');
    txt(L + 224, T + 87, '{s|' + p.snr + '}', 'right');
  }
  txt(L + 11, T + mainH + 9, '{s|R}{sb|S}{s| :}');
  txt(L + p.rsx, T + mainH + 9, '{s|' + p.rs + '}');
  if (p.rf) {
    txt(L + 248, T + mainH + 9, '{s|R}{sb|F}{s| : ' + p.rf + '}', 'right');
  }
});

// axis titles
graphic.push({
  type: 'text', x: 30, y: 450, rotation: Math.PI / 2, silent: true,
  style: {text: '{t|T}{tb|A}{tp|*}{t| (K)}', rich: rich, align: 'center', verticalAlign: 'middle', fontFamily: FONT, fontSize: 28, fill: '#000'}
});
graphic.push({
  type: 'text', x: 748, y: 980, silent: true,
  style: {text: '{x|Velocity (km s}{xp|\u22121}{x|)}', rich: rich, align: 'center', verticalAlign: 'middle', fontFamily: FONT, fontSize: 35, fill: '#000'}
});

var chart = echarts.init(document.getElementById('main'), null, {renderer: 'canvas'});
chart.setOption({
  backgroundColor: '#fff',
  animation: false,
  grid: grid,
  xAxis: xAxis,
  yAxis: yAxis,
  series: series,
  graphic: graphic
});
window.addEventListener('resize', function () { chart.resize(); });
</script>
</body>
</html>
